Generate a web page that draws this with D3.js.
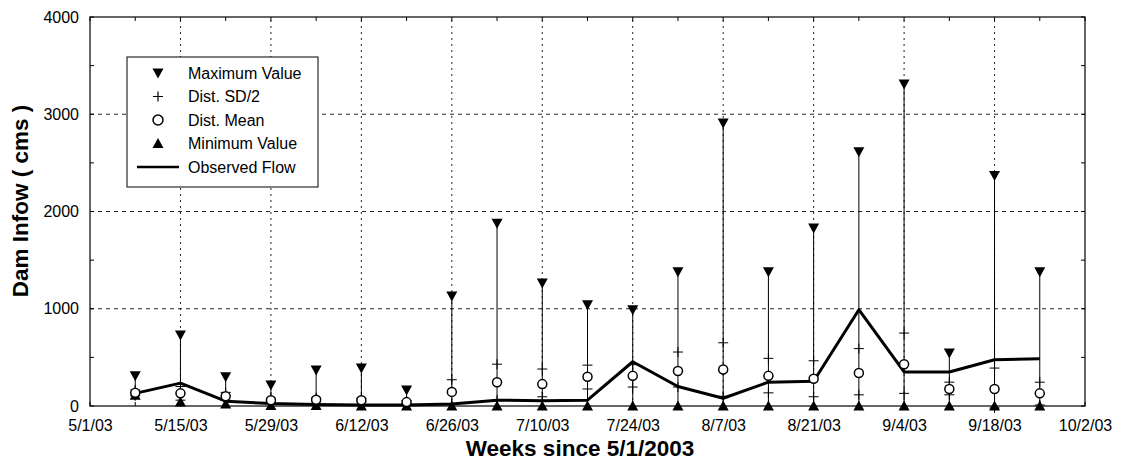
<!DOCTYPE html>
<html>
<head>
<meta charset="utf-8">
<script src="https://cdn.jsdelivr.net/npm/d3@7"></script>
<style>
  body { margin: 0; background: #fff; }
  svg { display: block; font-family: Arial, "Liberation Sans", sans-serif; }
</style>
</head>
<body>
<div id="chart"></div>
<script>
// weekly distribution of dam inflow (cms)
var weekDates = ['2003-05-08', '2003-05-15', '2003-05-22', '2003-05-29', '2003-06-05', '2003-06-12', '2003-06-19',
  '2003-06-26', '2003-07-03', '2003-07-10', '2003-07-17', '2003-07-24', '2003-07-31', '2003-08-07',
  '2003-08-14', '2003-08-21', '2003-08-28', '2003-09-04', '2003-09-11', '2003-09-18', '2003-09-25'];
var maxValue = [310, 730, 300, 215, 370, 390, 165, 1130, 1880, 1265, 1040, 990, 1380, 2910, 1380, 1830, 2615, 3310, 545, 2370, 1380];
var sdUpper = [165, 200, 140, 80, 85, 80, 55, 270, 430, 380, 420, 425, 555, 650, 490, 465, 590, 750, 245, 390, 245];
var meanValue = [135, 130, 100, 60, 65, 60, 40, 145, 245, 225, 300, 310, 360, 375, 310, 280, 340, 430, 175, 175, 130];
var sdLower = [105, 60, 60, 40, 45, 40, 25, 20, 60, 95, 175, 195, 195, 100, 135, 95, 115, 130, 115, -20, 10];
var minValue = [110, 40, 20, 5, 5, 0, 0, 0, 0, 0, 0, 0, 0, 0, 0, 0, 0, 0, 0, 0, 0];
var observedFlow = [130, 235, 50, 25, 15, 10, 10, 20, 60, 55, 60, 455, 200, 80, 245, 255, 990, 350, 350, 475, 485];
var xTickDates = ['2003-05-01', '2003-05-15', '2003-05-29', '2003-06-12', '2003-06-26', '2003-07-10',
  '2003-07-24', '2003-08-07', '2003-08-21', '2003-09-04', '2003-09-18', '2003-10-02'];
var yTicks = [0, 1000, 2000, 3000, 4000];
var yMinorTicks = [500, 1500, 2500, 3500];
var legendLabels = ['Maximum Value', 'Dist. SD/2', 'Dist. Mean', 'Minimum Value', 'Observed Flow'];

var width = 1121, height = 460;
var margin = {top: 17, right: 36, bottom: 54, left: 90};
var parse = d3.timeParse('%Y-%m-%d');
var fmt = d3.timeFormat('%-m/%-d/%y');
var font = 'Arial, "Liberation Sans", sans-serif';

var svg = d3.select('#chart').append('svg').attr('width', width).attr('height', height);

var x = d3.scaleTime()
  .domain([parse(xTickDates[0]), parse(xTickDates[xTickDates.length - 1])])
  .range([margin.left, width - margin.right]);
var y = d3.scaleLinear().domain([0, 4000]).range([height - margin.bottom, margin.top]);

var x0 = x.range()[0], x1 = x.range()[1], y0 = y.range()[0], y1 = y.range()[1];

var data = weekDates.map(function(d, i) {
  return {date: parse(d), max: maxValue[i], up: sdUpper[i], mean: meanValue[i], lo: sdLower[i], min: minValue[i], obs: observedFlow[i]};
});

// grid
var g = svg.append('g');
g.selectAll('line.hgrid').data(yTicks.slice(1, -1)).enter().append('line')
  .attr('x1', x0).attr('x2', x1).attr('y1', function(d) { return y(d); }).attr('y2', function(d) { return y(d); })
  .attr('stroke', '#222').attr('stroke-width', 1).attr('stroke-dasharray', '4,4');
g.selectAll('line.vgrid').data(xTickDates.slice(1, -1)).enter().append('line')
  .attr('x1', function(d) { return x(parse(d)); }).attr('x2', function(d) { return x(parse(d)); })
  .attr('y1', y0).attr('y2', y1)
  .attr('stroke', '#222').attr('stroke-width', 1).attr('stroke-dasharray', '2,4');

// axes
var xAxis = d3.axisBottom(x).tickValues(xTickDates.map(parse)).tickFormat(fmt).tickSize(0).tickPadding(14);
var yAxis = d3.axisLeft(y).tickValues(yTicks).tickFormat(d3.format('d')).tickSize(0).tickPadding(11);
svg.append('g').attr('transform', 'translate(0,' + y0 + ')').call(xAxis)
  .call(function(s) { s.select('.domain').remove(); })
  .selectAll('text').attr('font-size', 16).attr('fill', '#000').attr('font-family', font);
svg.append('g').attr('transform', 'translate(' + x0 + ',0)').call(yAxis)
  .call(function(s) { s.select('.domain').remove(); })
  .selectAll('text').attr('font-size', 16).attr('fill', '#000').attr('font-family', font);

// minor ticks (inward)
var weekly = d3.timeDay.range(x.domain()[0], d3.timeDay.offset(x.domain()[1], 1), 7);
var tk = svg.append('g').attr('stroke', '#000').attr('stroke-width', 1);
weekly.forEach(function(d) {
  tk.append('line').attr('x1', x(d)).attr('x2', x(d)).attr('y1', y1).attr('y2', y1 + 4);
  tk.append('line').attr('x1', x(d)).attr('x2', x(d)).attr('y1', y0).attr('y2', y0 - 4);
});
yMinorTicks.concat(yTicks).forEach(function(v) {
  tk.append('line').attr('x1', x0).attr('x2', x0 + 4).attr('y1', y(v)).attr('y2', y(v));
  tk.append('line').attr('x1', x1).attr('x2', x1 - 4).attr('y1', y(v)).attr('y2', y(v));
});

// frame
svg.append('rect').attr('x', x0).attr('y', y1).attr('width', x1 - x0).attr('height', y0 - y1)
  .attr('fill', 'none').attr('stroke', '#000').attr('stroke-width', 1.2);

// axis titles
svg.append('text').attr('x', 580).attr('y', 456).attr('text-anchor', 'middle')
  .attr('font-size', 22.5).attr('font-weight', 'bold').text('Weeks since 5/1/2003');
svg.append('text').attr('transform', 'translate(28,201) rotate(-90)').attr('text-anchor', 'middle')
  .attr('font-size', 22.5).attr('font-weight', 'bold').text('Dam Infow ( cms )');

// markers
var downTri = 'M-5.5,-4.5L5.5,-4.5L0,5.5Z';
var upTri = 'M-5.5,4.5L5.5,4.5L0,-5.5Z';
var cross = 'M-5,0H5M0,-5V5';

var marks = svg.append('g');
marks.selectAll('line.range').data(data).enter().append('line')
  .attr('x1', function(d) { return x(d.date); }).attr('x2', function(d) { return x(d.date); })
  .attr('y1', function(d) { return y(d.min); }).attr('y2', function(d) { return y(d.max); })
  .attr('stroke', '#000').attr('stroke-width', 1);

var line = d3.line().x(function(d) { return x(d.date); }).y(function(d) { return y(d.obs); });
marks.append('path').datum(data).attr('d', line).attr('fill', 'none').attr('stroke', '#000')
  .attr('stroke-width', 3).attr('stroke-linejoin', 'round');

marks.selectAll('path.max').data(data).enter().append('path')
  .attr('d', downTri).attr('transform', function(d) { return 'translate(' + x(d.date) + ',' + y(d.max) + ')'; });
marks.selectAll('path.min').data(data).enter().append('path')
  .attr('d', upTri).attr('transform', function(d) { return 'translate(' + x(d.date) + ',' + y(d.min) + ')'; });
['up', 'lo'].forEach(function(k) {
  marks.selectAll('path.sd-' + k).data(data).enter().append('path')
    .attr('d', cross).attr('fill', 'none').attr('stroke', '#000').attr('stroke-width', 1)
    .attr('transform', function(d) { return 'translate(' + x(d.date) + ',' + y(d[k]) + ')'; });
});
marks.selectAll('circle.mean').data(data).enter().append('circle')
  .attr('cx', function(d) { return x(d.date); }).attr('cy', function(d) { return y(d.mean); }).attr('r', 4.5)
  .attr('fill', '#fff').attr('stroke', '#000').attr('stroke-width', 1.5);

// legend
var lg = svg.append('g').attr('transform', 'translate(127,57)');
lg.append('rect').attr('width', 191).attr('height', 130).attr('fill', '#fff').attr('stroke', '#000').attr('stroke-width', 1);
var rowY = d3.scalePoint().domain(legendLabels).range([16, 110]);
legendLabels.forEach(function(lab, i) {
  var ry = rowY(lab), mx = 31;
  var row = lg.append('g').attr('transform', 'translate(' + mx + ',' + ry + ')');
  if (i === 0) row.append('path').attr('d', downTri);
  if (i === 1) row.append('path').attr('d', cross).attr('stroke', '#000').attr('stroke-width', 1.2);
  if (i === 2) row.append('circle').attr('r', 5).attr('fill', '#fff').attr('stroke', '#000').attr('stroke-width', 1.5);
  if (i === 3) row.append('path').attr('d', upTri);
  if (i === 4) row.append('line').attr('x1', -21).attr('x2', 21).attr('stroke', '#000').attr('stroke-width', 2.5);
  lg.append('text').attr('x', 61).attr('y', ry).attr('dy', '0.35em').attr('font-size', 16).text(lab);
});
</script>
</body>
</html>
